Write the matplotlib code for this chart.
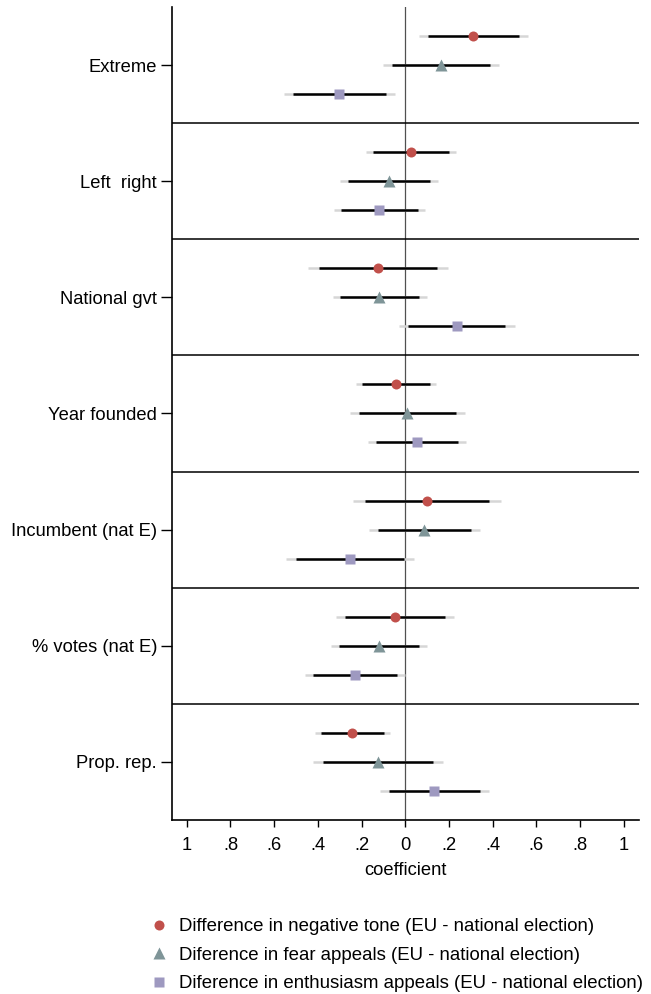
import numpy as np
import matplotlib
matplotlib.use("Agg")
import matplotlib.pyplot as plt
from matplotlib.lines import Line2D

plt.rcParams['font.family'] = ['Liberation Sans', 'DejaVu Sans']

# Variables (top to bottom)
variables = ["Extreme", "Left  right", "National gvt", "Year founded",
             "Incumbent (nat E)", "% votes (nat E)", "Prop. rep."]

series_names = ["Difference in negative tone (EU - national election)",
                "Diference in fear appeals (EU - national election)",
                "Diference in enthusiasm appeals (EU - national election)"]

# point estimates per variable: [negative tone, fear, enthusiasm]
coef = [[0.310, 0.163, -0.303],
        [0.025, -0.076, -0.119],
        [-0.125, -0.119, 0.235],
        [-0.043, 0.008, 0.052],
        [0.098, 0.087, -0.255],
        [-0.047, -0.122, -0.230],
        [-0.243, -0.126, 0.131]]

# inner (thick) interval
ci_lo = [[0.102, -0.059, -0.515],
         [-0.149, -0.262, -0.294],
         [-0.394, -0.297, 0.014],
         [-0.197, -0.212, -0.136],
         [-0.184, -0.125, -0.500],
         [-0.275, -0.305, -0.423],
         [-0.384, -0.375, -0.073]]
ci_hi = [[0.520, 0.386, -0.090],
         [0.199, 0.113, 0.057],
         [0.144, 0.063, 0.458],
         [0.113, 0.232, 0.243],
         [0.383, 0.301, -0.007],
         [0.180, 0.064, -0.038],
         [-0.099, 0.125, 0.340]]

# outer (light) interval
ci2_lo = [[0.064, -0.102, -0.555],
          [-0.181, -0.299, -0.326],
          [-0.445, -0.331, -0.027],
          [-0.224, -0.252, -0.172],
          [-0.238, -0.166, -0.547],
          [-0.317, -0.340, -0.460],
          [-0.412, -0.423, -0.114]]
ci2_hi = [[0.560, 0.427, -0.049],
          [0.231, 0.148, 0.089],
          [0.195, 0.098, 0.501],
          [0.141, 0.275, 0.279],
          [0.437, 0.340, 0.040],
          [0.224, 0.099, 0.000],
          [-0.071, 0.172, 0.382]]

xticks = [-1, -.8, -.6, -.4, -.2, 0, .2, .4, .6, .8, 1]
xtick_labels = ["1", ".8", ".6", ".4", ".2", "0", ".2", ".4", ".6", ".8", "1"]

colors = ["#c1504b", "#7f9598", "#9e99c0"]
markers = ["o", "^", "s"]
msizes = [7.2, 8.5, 7.2]

fig = plt.figure(figsize=(6.51, 9.94), dpi=100)
ax = fig.add_axes([0.2647, 0.1751, 0.9816 - 0.2647, 0.993 - 0.1751])

n = len(variables)
centers = np.arange(n) * 4 + 2

ax.axvline(0, color="#505050", lw=0.9, zorder=1)
for i in range(n):
    for k in range(3):
        y = centers[i] + k - 1
        ax.plot([ci2_lo[i][k], ci2_hi[i][k]], [y, y], color="#d6d6d6",
                lw=1.8, solid_capstyle="butt", zorder=2)
        ax.plot([ci_lo[i][k], ci_hi[i][k]], [y, y], color="black",
                lw=1.8, solid_capstyle="butt", zorder=3)
        ax.plot(coef[i][k], y, marker=markers[k], color=colors[k],
                ms=msizes[k], mec="none", zorder=4)

for i in range(1, n):
    ax.axhline(4 * i, color="black", lw=1.1, zorder=1)

ax.set_ylim(4 * n, 0)
ax.set_xlim(-1.066, 1.070)
ax.set_yticks(centers)
ax.set_yticklabels(variables, fontsize=13.2)
ax.set_xticks(xticks)
ax.set_xticklabels(xtick_labels, fontsize=13.2)
ax.set_xlabel("coefficient", fontsize=13.2, labelpad=6)

ax.spines["top"].set_visible(False)
ax.spines["right"].set_visible(False)
ax.spines["left"].set_linewidth(1.2)
ax.spines["bottom"].set_linewidth(1.2)
ax.tick_params(axis="y", length=8, width=1, pad=3)
ax.tick_params(axis="x", length=5, width=1, pad=7)

handles = [Line2D([], [], marker=markers[k], color=colors[k], ls="none",
                  ms=msizes[k], mec="none") for k in range(3)]
fig.legend(handles, series_names, loc="upper left",
           bbox_to_anchor=(150 / 651, 1 - 918 / 994), frameon=False,
           fontsize=13.4, handlelength=1.0, handletextpad=0.55,
           borderpad=0, borderaxespad=0, labelspacing=0.62)

fig.savefig("out.png", dpi=100)
